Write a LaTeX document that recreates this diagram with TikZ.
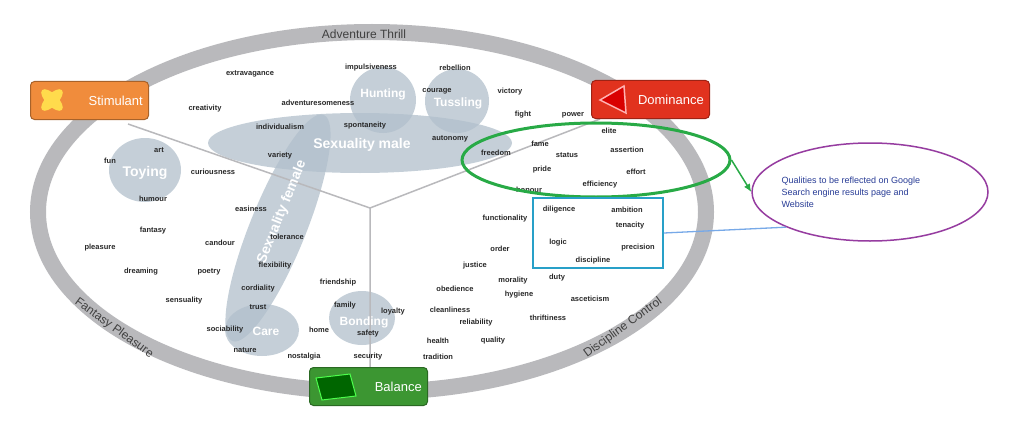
\documentclass[tikz,border=0pt]{standalone}
\usepackage{fontspec}
\setmainfont{Liberation Sans}
\usetikzlibrary{shapes.geometric,arrows.meta}
\definecolor{ringgray}{RGB}{185,185,188}
\definecolor{blob}{RGB}{178,192,204}
\definecolor{wordc}{RGB}{40,40,40}
\definecolor{ogreen}{RGB}{40,170,70}
\definecolor{bbox}{RGB}{40,160,200}
\definecolor{purp}{RGB}{150,60,160}
\definecolor{qtext}{RGB}{40,60,150}
\definecolor{stimc}{RGB}{240,140,60}
\definecolor{domc}{RGB}{225,50,30}
\definecolor{balc}{RGB}{60,150,50}
\tikzset{
  w/.style={font=\fontsize{7.5}{8}\selectfont\bfseries, text=wordc, inner sep=0pt},
  big/.style={font=\fontsize{14}{15}\selectfont\bfseries, text=white, inner sep=0pt},
  ringlab/.style={font=\fontsize{12}{13}\selectfont, text=black!75, inner sep=0pt},
  btn/.style={rounded corners=4pt, minimum width=118pt, minimum height=38pt, draw=#1!70!black, line width=1pt},
  btntext/.style={font=\fontsize{13}{14}\selectfont, text=white, inner sep=0pt},
  bl/.style={fill=blob, opacity=0.75, draw=none},
}
\begin{document}
\begin{tikzpicture}[x=1pt,y=-1pt]
\useasboundingbox (0,0) rectangle (1024,425);
\fill[white] (0,0) rectangle (1024,425);
% ring
\draw[ringgray, line width=16pt] (372,212) ellipse [x radius=334, y radius=180];
% blobs
\fill[bl] (360,143) ellipse [x radius=152, y radius=30];
\fill[bl, rotate around={68:(278,228)}] (278,228) ellipse [x radius=122, y radius=28];
\fill[bl] (383,100) circle (33);
\fill[bl] (457,101) circle (32);
\fill[bl] (145,170) ellipse [x radius=36, y radius=32];
\fill[bl] (262,330) ellipse [x radius=37, y radius=26];
\fill[bl] (362,318) ellipse [x radius=33, y radius=27];
% dividers
\coordinate (c) at (370,208);
\coordinate (s) at (128,124);
\coordinate (d) at (600,119);
\coordinate (b) at (370,368);
\draw[ringgray, line width=1.5pt] (c) -- (s) (c) -- (d) (c) -- (b);
% big labels
\node[big] (sm) at (362,145) {Sexuality male};
\node[big, rotate=68] (sf) at (282,212) {Sexuality female};
\node[big, font=\fontsize{12}{13}\selectfont\bfseries] (hu) at (383,94) {Hunting};
\node[big, font=\fontsize{12}{13}\selectfont\bfseries] (tu) at (458,103) {Tussling};
\node[big] (to) at (145,173) {Toying};
\node[big, font=\fontsize{12}{13}\selectfont\bfseries] (ca) at (266,331) {Care};
\node[big, font=\fontsize{12}{13}\selectfont\bfseries] (bo) at (364,322) {Bonding};
% ring labels
\node[ringlab] (at) at (364,34) {Adventure Thrill};
\node[ringlab, rotate=-36] (fp) at (114,328) {Fantasy Pleasure};
\node[ringlab, rotate=36] (dc) at (623,328) {Discipline Control};
% words
\foreach \t/\x/\y in {extravagance/250/74, impulsiveness/371/68, rebellion/455/68, victory/510/92, courage/437/91,
 creativity/205/109, adventuresomeness/318/103, fight/523/115, power/573/115, individualism/280/127, spontaneity/365/126,
 autonomy/450/139, elite/609/131, fame/540/144, freedom/496/153, status/567/155, assertion/627/150, art/159/150, fun/110/161,
 variety/280/156, curiousness/213/172, pride/542/170, effort/636/172, honour/529/190, efficiency/600/185, humour/153/199,
 easiness/251/209, diligence/559/210, ambition/627/210, functionality/505/219, tenacity/630/226, fantasy/153/231,
 candour/220/243, tolerance/287/237, pleasure/100/248, order/500/249, logic/558/243, precision/638/248, flexibility/275/266,
 justice/475/266, discipline/593/261, dreaming/141/272, poetry/209/272, friendship/338/283, morality/513/281, duty/557/278,
 cordiality/258/289, obedience/455/289, hygiene/519/295, asceticism/590/299, sensuality/184/301, trust/258/307,
 family/345/306, loyalty/393/312, cleanliness/450/310, thriftiness/548/318, reliability/476/323, sociability/225/330,
 home/319/330, safety/368/334, health/438/341, quality/493/341, nature/245/350, nostalgia/304/357, security/368/357,
 tradition/438/357}
  \node[w] (w-\t) at (\x,\y) {\t};
% buttons
\node[btn=stimc, fill=stimc, anchor=north west] (stim) at (30,81) {};
\node[btntext, anchor=east] (stimt) at ([xshift=-6pt]stim.east) {Stimulant};
\fill[orange!40!yellow!70!white, rotate around={45:(52,100)}] (52,100) ellipse [x radius=14, y radius=6];
\fill[orange!40!yellow!70!white, rotate around={-45:(52,100)}] (52,100) ellipse [x radius=14, y radius=6];
\node[btn=domc, fill=domc, anchor=north west] (dom) at (591,80) {};
\node[btntext, anchor=east] (domt) at ([xshift=-6pt]dom.east) {Dominance};
\draw[red!30!white, line width=1.5pt, fill=red!85!black] (624,86) -- (600,100) -- (626,113) -- cycle;
\node[btn=balc, fill=balc, anchor=north west] (bal) at (309,367) {};
\node[btntext, anchor=east] (balt) at ([xshift=-6pt]bal.east) {Balance};
\draw[green!70!white, line width=1pt, fill=green!40!black] (316,378) -- (350,374) -- (356,396) -- (322,400) -- cycle;
% annotations
\node[draw=ogreen, line width=3pt, ellipse, minimum width=268pt, minimum height=74pt] (ge) at (596,160) {};
\node[draw=bbox, line width=1.8pt, minimum width=130pt, minimum height=70pt, inner sep=0pt] (br) at (598,233) {};
\node[draw=purp, line width=1.5pt, ellipse, minimum width=236pt, minimum height=98pt] (pe) at (870,192) {};
\node[align=left, text=qtext, font=\fontsize{9}{12}\selectfont, anchor=west] (qt) at (778,192)
  {Qualities to be reflected on Google\\Search engine results page and\\Website};
\draw[ogreen, line width=1.5pt, -{Latex[length=8pt,width=7pt]}] (ge.east) -- (pe.west);
\draw[bbox!70!blue!60!white, line width=1.3pt] (br.east) -- (pe.south west);
\end{tikzpicture}
\end{document}
